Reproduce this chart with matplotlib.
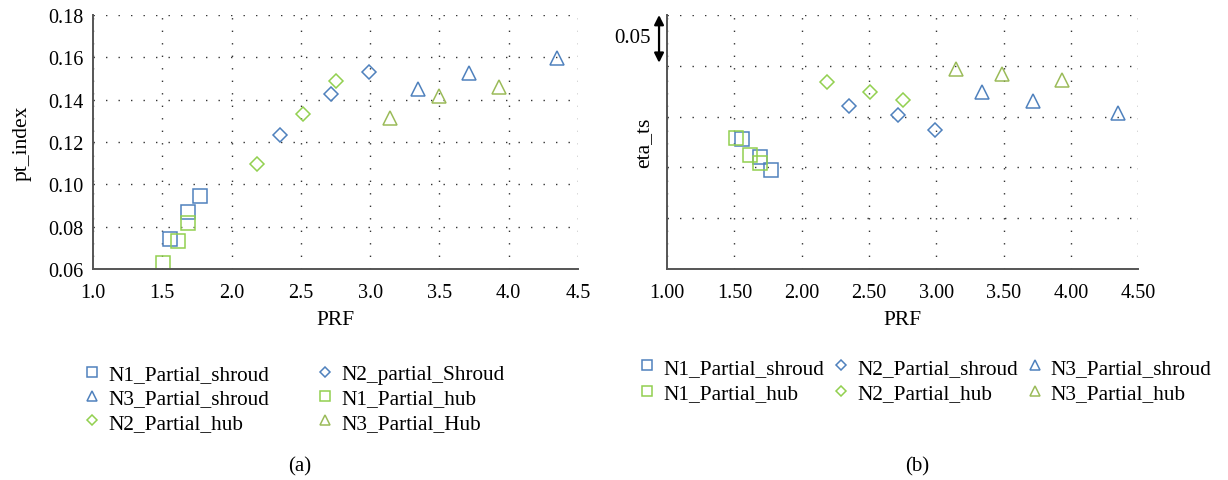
import matplotlib
matplotlib.use("Agg")
import matplotlib.pyplot as plt

plt.rcParams['font.family'] = ['Liberation Serif', 'DejaVu Serif']

# (a) pt_index vs PRF
a_n1_shroud_x = [1.555, 1.685, 1.771]
a_n1_shroud_y = [0.0742, 0.0867, 0.0946]
a_n1_hub_x = [1.507, 1.616, 1.688]
a_n1_hub_y = [0.0628, 0.0732, 0.0817]
a_n2_shroud_x = [2.348, 2.717, 2.991]
a_n2_shroud_y = [0.1234, 0.1429, 0.1532]
a_n2_hub_x = [2.181, 2.514, 2.755]
a_n2_hub_y = [0.1097, 0.1331, 0.1488]
a_n3_shroud_x = [3.343, 3.715, 4.350]
a_n3_shroud_y = [0.1452, 0.1525, 0.1598]
a_n3_hub_x = [3.146, 3.496, 3.931]
a_n3_hub_y = [0.1312, 0.1418, 0.1462]

# (b) eta_ts vs PRF (absolute level not labelled in the source; grid step 0.05)
b_n1_shroud_x = [1.557, 1.691, 1.774]
b_n1_shroud_y = [0.728, 0.710, 0.697]
b_n1_hub_x = [1.511, 1.614, 1.689]
b_n1_hub_y = [0.729, 0.712, 0.704]
b_n2_shroud_x = [2.349, 2.717, 2.991]
b_n2_shroud_y = [0.760, 0.752, 0.737]
b_n2_hub_x = [2.186, 2.511, 2.754]
b_n2_hub_y = [0.784, 0.774, 0.766]
b_n3_shroud_x = [3.343, 3.717, 4.354]
b_n3_shroud_y = [0.774, 0.765, 0.754]
b_n3_hub_x = [3.149, 3.491, 3.934]
b_n3_hub_y = [0.797, 0.792, 0.786]

a_xticks = [1.0, 1.5, 2.0, 2.5, 3.0, 3.5, 4.0, 4.5]
a_yticks = [0.06, 0.08, 0.10, 0.12, 0.14, 0.16, 0.18]
b_yticks = [0.60, 0.65, 0.70, 0.75, 0.80, 0.85]

blue = '#4f81bd'
green = '#92d050'
olive = '#9bbb59'

fig = plt.figure(figsize=(12.28, 4.81), dpi=100)
ax1 = fig.add_axes([0.0757, 0.4387, 0.395, 0.528])
ax2 = fig.add_axes([0.5432, 0.4387, 0.3836, 0.528])

mk = dict(linestyle='none', mfc='none', mew=1.1)


def draw(ax, series):
    handles = {}
    for name, (x, y, m, c, ms) in series.items():
        h, = ax.plot(x, y, marker=m, color=c, markersize=ms, label=name, **mk)
        handles[name] = h
    return handles


def style(ax):
    ax.grid(True, color='#333333', linestyle=(0, (1, 8)), linewidth=1.0)
    for s in ['top', 'right']:
        ax.spines[s].set_visible(False)
    for s in ['left', 'bottom']:
        ax.spines[s].set_color('#555555')
        ax.spines[s].set_linewidth(1.4)
    ax.tick_params(length=0, labelsize=14.5, pad=7)
    ax.tick_params(axis='x', pad=10)
    ax.set_axisbelow(True)


h1 = draw(ax1, {
    'N1_Partial_shroud': (a_n1_shroud_x, a_n1_shroud_y, 's', blue, 10),
    'N2_partial_Shroud': (a_n2_shroud_x, a_n2_shroud_y, 'D', blue, 7.5),
    'N3_Partial_shroud': (a_n3_shroud_x, a_n3_shroud_y, '^', blue, 10),
    'N1_Partial_hub': (a_n1_hub_x, a_n1_hub_y, 's', green, 10),
    'N2_Partial_hub': (a_n2_hub_x, a_n2_hub_y, 'D', green, 7.5),
    'N3_Partial_Hub': (a_n3_hub_x, a_n3_hub_y, '^', olive, 10),
})
ax1.set_xlim(1.0, 4.5)
ax1.set_ylim(0.06, 0.18)
ax1.set_xticks(a_xticks)
ax1.set_xticklabels(['%.1f' % v for v in a_xticks])
ax1.set_yticks(a_yticks)
ax1.set_yticklabels(['%.2f' % v for v in a_yticks])
ax1.set_xlabel('PRF', fontsize=15.5, labelpad=6)
ax1.set_ylabel('pt_index', fontsize=15.5, labelpad=12)
style(ax1)

legkw = dict(frameon=False, fontsize=15.3, loc='upper left',
             handlelength=0.7, handletextpad=0.4, markerscale=0.7,
             borderaxespad=0, borderpad=0)

# legend columns are filled top-down
order1 = ['N1_Partial_shroud', 'N3_Partial_shroud', 'N2_Partial_hub',
          'N2_partial_Shroud', 'N1_Partial_hub', 'N3_Partial_Hub']
fig.legend([h1[k] for k in order1], order1, ncol=2,
           bbox_to_anchor=(0.069, 0.240), columnspacing=2.3,
           labelspacing=0.2, **legkw)

h2 = draw(ax2, {
    'N1_Partial_shroud': (b_n1_shroud_x, b_n1_shroud_y, 's', blue, 10),
    'N2_Partial_shroud': (b_n2_shroud_x, b_n2_shroud_y, 'D', blue, 7.5),
    'N3_Partial_shroud': (b_n3_shroud_x, b_n3_shroud_y, '^', blue, 10),
    'N1_Partial_hub': (b_n1_hub_x, b_n1_hub_y, 's', green, 10),
    'N2_Partial_hub': (b_n2_hub_x, b_n2_hub_y, 'D', green, 7.5),
    'N3_Partial_hub': (b_n3_hub_x, b_n3_hub_y, '^', olive, 10),
})
ax2.set_xlim(1.0, 4.5)
ax2.set_ylim(b_yticks[0], b_yticks[-1])
ax2.set_xticks(a_xticks)
ax2.set_xticklabels(['%.2f' % v for v in a_xticks])
ax2.set_yticks(b_yticks)
ax2.set_yticklabels([])
ax2.set_xlabel('PRF', fontsize=15.5, labelpad=6)
ax2.set_ylabel('eta_ts', fontsize=15.5, labelpad=3)
style(ax2)

trans = ax2.get_yaxis_transform()
ax2.annotate('', xy=(-0.017, b_yticks[-1]), xytext=(-0.017, b_yticks[-2] + 0.003),
             xycoords=trans, textcoords=trans,
             arrowprops=dict(arrowstyle='<|-|>', color='black', lw=1.6,
                             mutation_scale=14, shrinkA=0, shrinkB=0),
             annotation_clip=False)
ax2.text(-0.074, b_yticks[-1] - 0.022, '0.05', transform=trans, fontsize=15,
         ha='center', va='center')

order2 = ['N1_Partial_shroud', 'N1_Partial_hub', 'N2_Partial_shroud',
          'N2_Partial_hub', 'N3_Partial_shroud', 'N3_Partial_hub']
fig.legend([h2[k] for k in order2], order2, ncol=3,
           bbox_to_anchor=(0.521, 0.254), columnspacing=0.45,
           labelspacing=0.28, **legkw)

fig.text(0.2443, 0.02, '(a)', fontsize=15, ha='center')
fig.text(0.7467, 0.02, '(b)', fontsize=15, ha='center')

fig.savefig('out.png', dpi=100)
